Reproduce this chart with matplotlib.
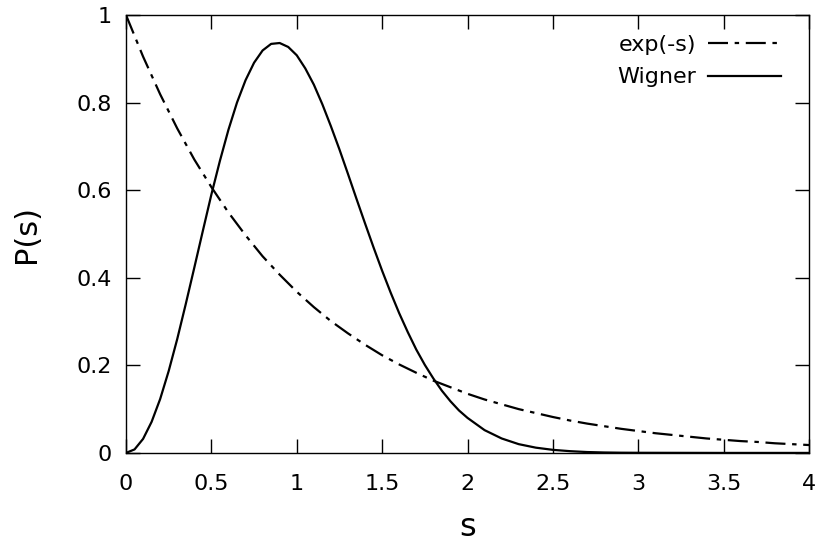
import matplotlib
matplotlib.use('Agg')
import matplotlib.pyplot as plt

# exp(-s), read at steps of 0.1
exp_s = [0.0, 0.1, 0.2, 0.3, 0.4, 0.5, 0.6, 0.7, 0.8, 0.9, 1.0,
         1.1, 1.2, 1.3, 1.4, 1.5, 1.6, 1.7, 1.8, 1.9, 2.0,
         2.1, 2.2, 2.3, 2.4, 2.5, 2.6, 2.7, 2.8, 2.9, 3.0,
         3.1, 3.2, 3.3, 3.4, 3.5, 3.6, 3.7, 3.8, 3.9, 4.0]
exp_p = [1.000, 0.905, 0.819, 0.741, 0.670, 0.607, 0.549, 0.497, 0.449, 0.407, 0.368,
         0.333, 0.301, 0.273, 0.247, 0.223, 0.202, 0.183, 0.165, 0.150, 0.135,
         0.122, 0.111, 0.100, 0.091, 0.082, 0.074, 0.067, 0.061, 0.055, 0.050,
         0.045, 0.041, 0.037, 0.033, 0.030, 0.027, 0.025, 0.022, 0.020, 0.018]

# Wigner curve
wig_s = [0.0, 0.05, 0.1, 0.15, 0.2, 0.25, 0.3, 0.35, 0.4, 0.45, 0.5,
         0.55, 0.6, 0.65, 0.7, 0.75, 0.8, 0.85, 0.9, 0.95, 1.0,
         1.05, 1.1, 1.15, 1.2, 1.25, 1.3, 1.35, 1.4, 1.45, 1.5,
         1.55, 1.6, 1.65, 1.7, 1.75, 1.8, 1.85, 1.9, 1.95, 2.0,
         2.1, 2.2, 2.3, 2.4, 2.5, 2.6, 2.7, 2.8, 2.9, 3.0, 3.5, 4.0]
wig_p = [0.0, 0.008, 0.032, 0.071, 0.123, 0.187, 0.260, 0.340, 0.423, 0.507, 0.590,
         0.667, 0.738, 0.800, 0.851, 0.891, 0.919, 0.934, 0.936, 0.927, 0.908,
         0.878, 0.841, 0.796, 0.746, 0.693, 0.637, 0.580, 0.524, 0.469, 0.416,
         0.366, 0.319, 0.276, 0.236, 0.201, 0.170, 0.142, 0.118, 0.097, 0.080,
         0.052, 0.033, 0.020, 0.012, 0.007, 0.004, 0.002, 0.001, 0.0005, 0.0003, 0.0, 0.0]

fig = plt.figure(figsize=(8.23, 5.47), dpi=100)
ax = fig.add_axes([0.1531, 0.172, 0.8299, 0.8006])

l1, = ax.plot(exp_s, exp_p, color='black', lw=1.6, label='exp(-s)')
l1.set_dashes([9, 3, 2, 3])
ax.plot(wig_s, wig_p, color='black', lw=1.6, label='Wigner',
        solid_joinstyle='round')

ax.set_xlim(0, 4)
ax.set_ylim(0, 1)
ax.set_xticks([0, 0.5, 1, 1.5, 2, 2.5, 3, 3.5, 4])
ax.set_xticklabels(['0', '0.5', '1', '1.5', '2', '2.5', '3', '3.5', '4'])
ax.set_yticks([0, 0.2, 0.4, 0.6, 0.8, 1])
ax.set_yticklabels(['0', '0.2', '0.4', '0.6', '0.8', '1'])
ax.tick_params(direction='in', length=10, width=1, labelsize=16,
               top=True, right=True, pad=10)
ax.tick_params(axis='x', pad=15)
for sp in ax.spines.values():
    sp.set_linewidth(1)

ax.set_xlabel('s', fontsize=23, labelpad=13)
ax.set_ylabel('P(s)', fontsize=22, labelpad=26)

ax.legend(loc='upper right', bbox_to_anchor=(0.959, 0.955), frameon=False,
          markerfirst=False, handlelength=3.3, fontsize=16, borderpad=0,
          borderaxespad=0, labelspacing=0.57, handletextpad=0.5)

fig.savefig('out.png', dpi=100)
